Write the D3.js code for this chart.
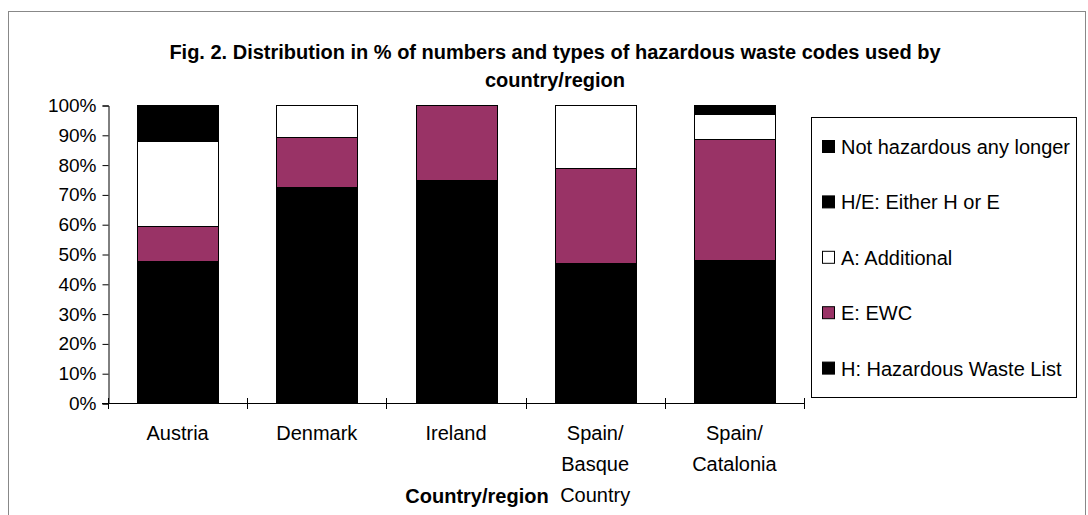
<!DOCTYPE html>
<html>
<head>
<meta charset="utf-8">
<script src="https://cdn.jsdelivr.net/npm/d3@7"></script>
<style>
    body { margin: 0; background: #fff; }
    svg { display: block; font-family: Arial, "Liberation Sans", sans-serif; }
</style>
</head>
<body>
<script>
//wrap everything in a self-executing anonymous function
(function(){

    //chart data (percent of codes per country/region)
    var categories = ["Austria", "Denmark", "Ireland", "Spain/Basque Country", "Spain/Catalonia"];
    var catLines = [["Austria"], ["Denmark"], ["Ireland"], ["Spain/", "Basque", "Country"], ["Spain/", "Catalonia"]];
    var hazardous = [47.5, 72.4, 75, 47, 48];      //H: Hazardous Waste List
    var ewc = [12, 17, 25, 32, 40.5];              //E: EWC
    var additional = [28.5, 10.6, 0, 21, 8.5];     //A: Additional
    var eitherHE = [0, 0, 0, 0, 3];                //H/E: Either H or E
    var notHazardous = [12, 0, 0, 0, 0];           //Not hazardous any longer
    var seriesNames = ["H: Hazardous Waste List", "E: EWC", "A: Additional", "H/E: Either H or E", "Not hazardous any longer"];
    var seriesColors = ["#000000", "#993366", "#ffffff", "#000000", "#000000"];
    var yTicks = [0, 10, 20, 30, 40, 50, 60, 70, 80, 90, 100];

    var width = 1088,
        height = 515;

    var svg = d3.select("body")
        .append("svg")
        .attr("width", width)
        .attr("height", height);

    //outer chart frame
    svg.append("rect")
        .attr("x", 8.5)
        .attr("y", 11.5)
        .attr("width", 1077)
        .attr("height", 530)
        .attr("fill", "none")
        .attr("stroke", "#888");

    //title
    var title = svg.append("text")
        .attr("text-anchor", "middle")
        .attr("font-weight", "bold")
        .attr("font-size", 20)
        .attr("fill", "#000");
    title.append("tspan").attr("x", 555).attr("y", 59)
        .text("Fig. 2. Distribution in % of numbers and types of hazardous waste codes used by");
    title.append("tspan").attr("x", 555).attr("y", 87)
        .text("country/region");

    //scales
    var x = d3.scaleBand()
        .domain(categories)
        .range([108, 804])
        .paddingInner(0.42)
        .paddingOuter(0.21);

    var y = d3.scaleLinear()
        .domain([0, 100])
        .range([403, 105]);

    //build table for the stack layout
    var table = categories.map(function(c, i){
        return { cat: c, s0: hazardous[i], s1: ewc[i], s2: additional[i], s3: eitherHE[i], s4: notHazardous[i] };
    });
    var stack = d3.stack().keys(["s0", "s1", "s2", "s3", "s4"]);
    var layers = stack(table);

    //bars
    var layer = svg.selectAll(".layer")
        .data(layers)
        .enter()
        .append("g")
        .attr("class", "layer")
        .attr("fill", function(d, i){ return seriesColors[i]; });

    layer.selectAll("rect")
        .data(function(d){ return d.filter(function(p){ return p[1] - p[0] > 0; }); })
        .enter()
        .append("rect")
        .attr("x", function(d){ return Math.round(x(d.data.cat)) + 0.5; })
        .attr("y", function(d){ return Math.round(y(d[1])) + 0.5; })
        .attr("width", Math.round(x.bandwidth()))
        .attr("height", function(d){ return Math.round(y(d[0])) - Math.round(y(d[1])); })
        .attr("stroke", "#000")
        .attr("stroke-width", 1);

    //y axis
    var yAxis = d3.axisLeft(y)
        .tickValues(yTicks)
        .tickSize(6)
        .tickPadding(6)
        .tickFormat(function(d){ return d + "%"; });

    var gy = svg.append("g")
        .attr("transform", "translate(108.5,0.5)")
        .call(yAxis);
    gy.select(".domain").attr("stroke", "#000");
    gy.selectAll(".tick line").attr("stroke", "#000");
    gy.selectAll(".tick text")
        .attr("font-size", 19)
        .attr("font-family", "Arial, 'Liberation Sans', sans-serif")
        .attr("fill", "#000");

    //x axis line with cross ticks at category boundaries
    var xg = svg.append("g");
    xg.append("line")
        .attr("x1", 102).attr("x2", 804)
        .attr("y1", y(0) + 0.5).attr("y2", y(0) + 0.5)
        .attr("stroke", "#000");
    var bounds = categories.map(function(c){ return x(c) - x.step() * x.paddingInner() / 2; });
    bounds[0] = x.range()[0];
    bounds.push(x.range()[1]);
    xg.selectAll(".xtick")
        .data(bounds)
        .enter()
        .append("line")
        .attr("class", "xtick")
        .attr("x1", function(d){ return Math.round(d) + 0.5; })
        .attr("x2", function(d){ return Math.round(d) + 0.5; })
        .attr("y1", y(0) - 5)
        .attr("y2", y(0) + 6)
        .attr("stroke", "#000");

    //category labels (multi-line)
    var labels = svg.selectAll(".xlabel")
        .data(categories)
        .enter()
        .append("text")
        .attr("class", "xlabel")
        .attr("text-anchor", "middle")
        .attr("font-size", 20)
        .attr("fill", "#000");
    labels.each(function(c, i){
        var t = d3.select(this);
        catLines[i].forEach(function(line, j){
            t.append("tspan")
                .attr("x", x(c) + x.bandwidth() / 2)
                .attr("y", 440 + j * 31)
                .text(line);
        });
    });

    //x axis title
    svg.append("text")
        .attr("x", 477)
        .attr("y", 503)
        .attr("text-anchor", "middle")
        .attr("font-size", 20)
        .attr("font-weight", "bold")
        .attr("fill", "#000")
        .text("Country/region");

    //legend box
    var legend = svg.append("g");
    legend.append("rect")
        .attr("x", 811.5)
        .attr("y", 117.5)
        .attr("width", 265)
        .attr("height", 280)
        .attr("fill", "#fff")
        .attr("stroke", "#000");

    //legend items listed top-down in reverse stack order
    var legendOrder = [4, 3, 2, 1, 0];
    var item = legend.selectAll(".item")
        .data(legendOrder)
        .enter()
        .append("g")
        .attr("class", "item")
        .attr("transform", function(d, i){ return "translate(0," + (147 + i * 55.4) + ")"; });

    item.append("rect")
        .attr("x", 822.5)
        .attr("y", -6.5)
        .attr("width", 12)
        .attr("height", 12)
        .attr("fill", function(d){ return seriesColors[d]; })
        .attr("stroke", "#000");

    item.append("text")
        .attr("x", 841)
        .attr("y", 7)
        .attr("font-size", 20)
        .attr("fill", "#000")
        .text(function(d){ return seriesNames[d]; });

})();
</script>
</body>
</html>
